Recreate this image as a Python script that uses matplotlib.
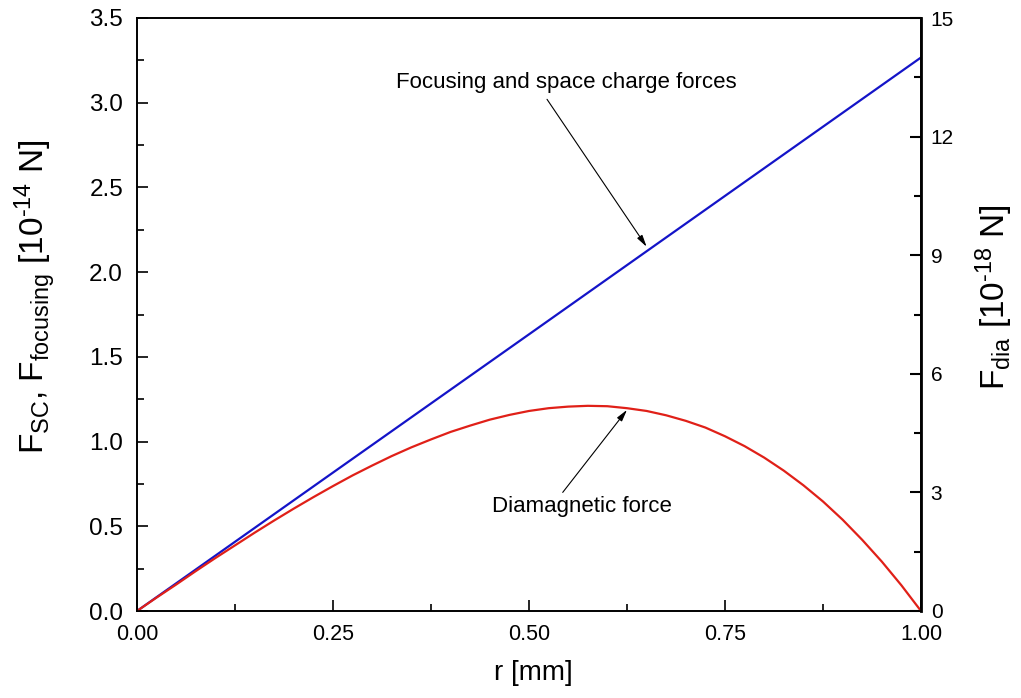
import matplotlib
matplotlib.use("Agg")
import matplotlib.pyplot as plt
from matplotlib.ticker import MultipleLocator, FormatStrFormatter

plt.rcParams['font.family'] = ['Liberation Sans', 'DejaVu Sans']
plt.rcParams['mathtext.fontset'] = 'custom'
plt.rcParams['mathtext.rm'] = 'Liberation Sans'
plt.rcParams['mathtext.it'] = 'Liberation Sans'

# Data
r_focus = [0.0, 0.25, 0.50, 0.75, 1.00]
f_focus = [0.0, 0.817, 1.633, 2.450, 3.267]          # left axis, 1e-14 N

r_dia = [0.000, 0.025, 0.050, 0.075, 0.100, 0.125, 0.150, 0.175, 0.200, 0.225,
         0.250, 0.275, 0.300, 0.325, 0.350, 0.375, 0.400, 0.425, 0.450, 0.475,
         0.500, 0.525, 0.550, 0.575, 0.600, 0.625, 0.650, 0.675, 0.700, 0.725,
         0.750, 0.775, 0.800, 0.825, 0.850, 0.875, 0.900, 0.925, 0.950, 0.975,
         1.000]
f_dia = [0.00, 0.34, 0.67, 1.01, 1.34, 1.66, 1.98, 2.29, 2.59, 2.88,
         3.16, 3.43, 3.68, 3.92, 4.14, 4.34, 4.53, 4.69, 4.84, 4.96,
         5.06, 5.13, 5.17, 5.19, 5.18, 5.13, 5.06, 4.95, 4.81, 4.64,
         4.42, 4.17, 3.88, 3.55, 3.18, 2.77, 2.31, 1.80, 1.25, 0.65,
         0.00]  # right axis, 1e-18 N

x_ticks = [0.00, 0.25, 0.50, 0.75, 1.00]
left_ticks = [0.0, 0.5, 1.0, 1.5, 2.0, 2.5, 3.0, 3.5]
right_ticks = [0, 3, 6, 9, 12, 15]

fig = plt.figure(figsize=(10.21, 6.98), dpi=100)
ax = fig.add_axes([137/1021, 1-611/698, (921-137)/1021, (611-18)/698])
ax2 = ax.twinx()

ax.plot(r_focus, f_focus, color='#1414c8', lw=1.6)
ax2.plot(r_dia, f_dia, color='#e02018', lw=1.6)

ax.set_xlim(0, 1)
ax.set_ylim(0, 3.5)
ax2.set_ylim(0, 15)

ax.set_xticks(x_ticks)
ax.xaxis.set_minor_locator(MultipleLocator(0.125))
ax.set_yticks(left_ticks)
ax.yaxis.set_minor_locator(MultipleLocator(0.25))
ax2.set_yticks(right_ticks)
ax2.yaxis.set_minor_locator(MultipleLocator(1.5))
ax.xaxis.set_major_formatter(FormatStrFormatter('%.2f'))
ax.yaxis.set_major_formatter(FormatStrFormatter('%.1f'))

for a in (ax, ax2):
    for s in a.spines.values():
        s.set_linewidth(1.2)
ax2.spines['right'].set_linewidth(2.0)

ax.tick_params(axis='both', which='both', direction='in', top=False, right=False,
               width=1.2)
ax.tick_params(axis='both', which='major', length=8)
ax.tick_params(axis='both', which='minor', length=5)
ax.tick_params(axis='y', pad=10, labelsize=17.5)
ax.tick_params(axis='x', pad=9, labelsize=15.5)
ax2.tick_params(axis='y', which='both', direction='in', labelsize=15, width=1.5, pad=7)
ax2.tick_params(axis='y', which='major', length=8)
ax2.tick_params(axis='y', which='minor', length=5)

ax.set_xlabel('r [mm]', fontsize=20, va='center')
ax.xaxis.set_label_coords(0.506, -0.105)
ax.set_ylabel(r'F$_{SC}$, F$_{focusing}$ [10$^{\text{-}14}$ N]', fontsize=24, va='center')
ax.yaxis.set_label_coords(-0.130, 0.53)
ax2.set_ylabel(r'F$_{dia}$ [10$^{\text{-}18}$ N]', fontsize=24, va='center')
ax2.yaxis.set_label_coords(1.094, 0.53)

arrow = dict(arrowstyle='-|>,head_length=0.7,head_width=0.18', color='black',
             lw=0.8, shrinkA=0, shrinkB=0)
ax.annotate('', xy=(0.650, 2.15), xytext=(0.523, 3.02), arrowprops=arrow)
ax.text(0.548, 3.12, 'Focusing and space charge forces', fontsize=16,
        ha='center', va='center')
ax.annotate('', xy=(0.625, 1.187), xytext=(0.543, 0.70), arrowprops=arrow)
ax.text(0.568, 0.614, 'Diamagnetic force', fontsize=16, ha='center', va='center')

fig.savefig('out.png', dpi=100)
